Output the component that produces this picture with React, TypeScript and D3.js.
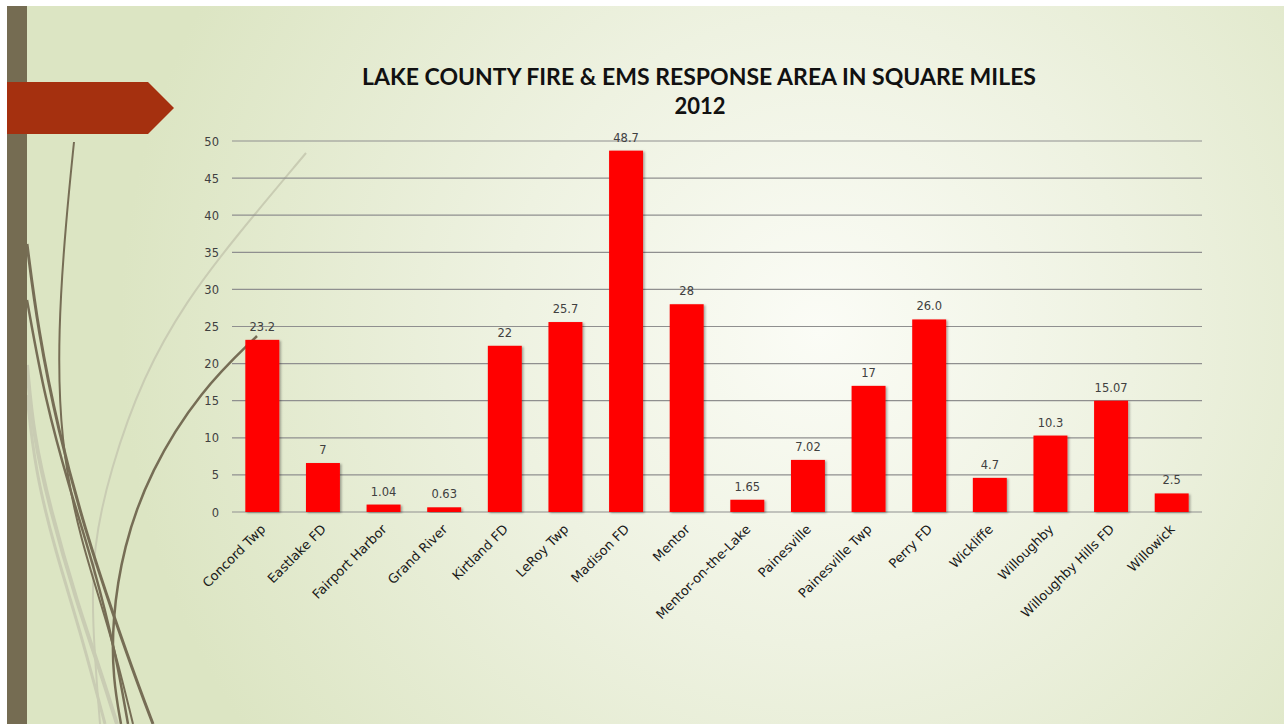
import React from "react";
import * as d3 from "d3";

const categories = [
  "Concord Twp", "Eastlake FD", "Fairport Harbor", "Grand River", "Kirtland FD",
  "LeRoy Twp", "Madison FD", "Mentor", "Mentor-on-the-Lake", "Painesville",
  "Painesville Twp", "Perry FD", "Wickliffe", "Willoughby", "Willoughby Hills FD", "Willowick",
];
const values = [23.2, 6.6, 1.0, 0.63, 22.4, 25.6, 48.7, 28.0, 1.65, 7.02, 17.0, 25.95, 4.6, 10.3, 15.0, 2.5];
const valueLabels = ["23.2", "7", "1.04", "0.63", "22", "25.7", "48.7", "28", "1.65", "7.02", "17", "26.0", "4.7", "10.3", "15.07", "2.5"];
const yTicks = [0, 5, 10, 15, 20, 25, 30, 35, 40, 45, 50];
const titleLines = ["LAKE COUNTY FIRE & EMS RESPONSE AREA IN SQUARE MILES", "2012"];

const W = 1284;
const H = 724;

export default function App() {
  const x = d3.scaleBand<string>().domain(categories).range([232, 1202]).paddingInner(0.44).paddingOuter(0.22);
  const y = d3.scaleLinear().domain([0, 50]).range([512, 141]);
  const line = d3.line<[number, number]>().curve(d3.curveBasis);

  const darkCurves: { pts: [number, number][]; w: number }[] = [
    { pts: [[74, 142], [66, 220], [58, 330], [60, 440], [80, 540], [110, 630], [133, 724]], w: 2 },
    { pts: [[27, 244], [38, 330], [58, 430], [85, 530], [115, 620], [140, 690], [153, 724]], w: 3 },
    { pts: [[27, 300], [45, 400], [70, 490], [95, 570], [115, 650], [128, 724]], w: 2.5 },
    { pts: [[257, 336], [200, 391], [150, 471], [123, 547], [112, 622], [113, 679], [121, 724]], w: 2.5 },
  ];
  const lightCurves: { pts: [number, number][]; w: number }[] = [
    { pts: [[306, 153], [233, 240], [187, 300], [143, 376], [110, 470], [93, 547], [92, 622], [100, 724]], w: 2 },
    { pts: [[27, 365], [33, 433], [50, 509], [77, 603], [100, 670], [117, 724]], w: 4 },
    { pts: [[27, 395], [35, 470], [55, 550], [80, 630], [105, 724]], w: 3 },
  ];

  return (
    <svg width={W} height={H} style={{ position: "absolute", left: 0, top: 0, background: "#fff" }}>
      <defs>
        <radialGradient id="bg" gradientUnits="userSpaceOnUse" cx={820} cy={330} r={700}>
          <stop offset="0" stopColor="#fbfcf6" />
          <stop offset="0.45" stopColor="#eef2e1" />
          <stop offset="1" stopColor="#dce5c3" />
        </radialGradient>
        <filter id="shadow" x="-20%" y="-5%" width="150%" height="120%">
          <feDropShadow dx="1.5" dy="1" stdDeviation="1" floodColor="#000" floodOpacity="0.35" />
        </filter>
      </defs>
      <rect x={7} y={6} width={W - 7} height={H - 6} fill="url(#bg)" />
      {lightCurves.map((c, i) => (
        <path key={"l" + i} d={line(c.pts) || ""} fill="none" stroke="#c9ccb3" strokeWidth={c.w} />
      ))}
      {darkCurves.map((c, i) => (
        <path key={"d" + i} d={line(c.pts) || ""} fill="none" stroke="#766d55" strokeWidth={c.w} />
      ))}
      <rect x={7} y={6} width={20} height={H - 6} fill="#756c52" />
      <path d="M7,82 L148,82 L174,108 L148,134 L7,134 Z" fill="#a5300f" />

      <text x={699} y={85} textAnchor="middle" fontFamily="'Lato', 'DejaVu Sans', sans-serif" fontWeight={700}
        fontSize={22} fill="#111" textLength={674} lengthAdjust="spacingAndGlyphs">{titleLines[0]}</text>
      <text x={700} y={114} textAnchor="middle" fontFamily="'Lato', 'DejaVu Sans', sans-serif" fontWeight={700}
        fontSize={22} fill="#111">{titleLines[1]}</text>

      {yTicks.map((t) => (
        <g key={t}>
          <line x1={232} x2={1202} y1={y(t)} y2={y(t)} stroke="#8f8f8f" strokeWidth={1.2} />
          <text x={219} y={y(t) + 4.5} textAnchor="end" fontFamily="'DejaVu Sans', sans-serif" fontSize={11.5} fill="#404040">{t}</text>
        </g>
      ))}

      {categories.map((c, i) => {
        const bx = x(c)!;
        const bw = x.bandwidth();
        return (
          <g key={c}>
            <rect x={bx} y={y(values[i])} width={bw} height={y(0) - y(values[i])} fill="#ff0000" filter="url(#shadow)" />
            <text x={bx + bw / 2} y={y(values[i]) - 9} textAnchor="middle" fontFamily="'DejaVu Sans', sans-serif"
              fontSize={11.5} fill="#404040">{valueLabels[i]}</text>
            <text transform={`translate(${bx + bw / 2 + 4},${530}) rotate(-45)`} textAnchor="end"
              fontFamily="'DejaVu Sans', sans-serif" fontSize={13} fill="#1a1a1a">{c}</text>
          </g>
        );
      })}
    </svg>
  );
}
